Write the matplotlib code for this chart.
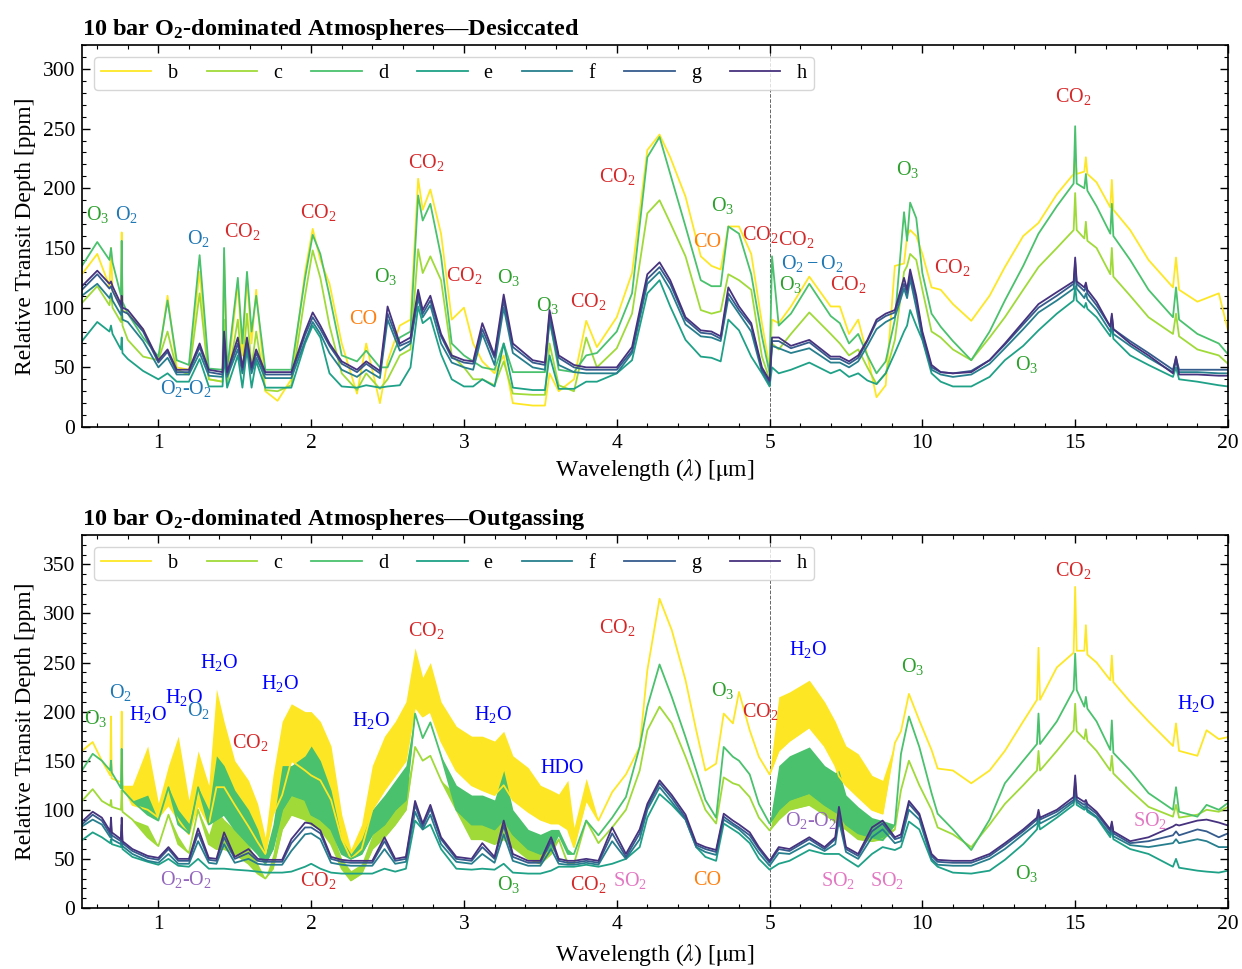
import numpy as np
import matplotlib
matplotlib.use("Agg")
import matplotlib.pyplot as plt
from matplotlib.ticker import FixedLocator, NullFormatter, MultipleLocator

plt.rcParams['font.family'] = ['Liberation Serif', 'DejaVu Serif']
plt.rcParams['mathtext.fontset'] = 'stix'
plt.rcParams['mathtext.default'] = 'regular'

planets = ['b', 'c', 'd', 'e', 'f', 'g', 'h']

# ---------------- desiccated (top) ----------------
wl_top = [0.50, 0.60, 0.68, 0.69, 0.70, 0.755, 0.76, 0.765, 0.80, 0.90,
          1.00, 1.06, 1.12, 1.20, 1.27, 1.33, 1.42, 1.43, 1.45, 1.52,
          1.55, 1.58, 1.61, 1.64, 1.70, 1.78, 1.87, 1.96, 2.01, 2.06,
          2.12, 2.20, 2.30, 2.36, 2.45, 2.50, 2.58, 2.65, 2.70, 2.73,
          2.78, 2.85, 2.92, 3.00, 3.06, 3.12, 3.20, 3.26, 3.32, 3.45,
          3.53, 3.56, 3.62, 3.72, 3.80, 3.87, 4.00, 4.10, 4.20, 4.28,
          4.35, 4.45, 4.55, 4.62, 4.68, 4.73, 4.80, 4.88, 4.95, 5.00,
          5.08, 5.30, 5.70, 6.30, 7.00, 7.30, 7.60, 7.90, 8.20, 8.50,
          8.80, 9.10, 9.40, 9.50, 9.60, 9.80, 10.0, 10.3, 10.6, 11.0,
          11.6, 12.2, 12.7, 13.3, 13.8, 14.4, 14.95, 15.0, 15.05, 15.3, 15.35, 15.4,
          15.7, 16.15, 16.2, 16.25, 16.8, 17.4, 18.2, 18.3, 18.4, 19.0,
          19.7, 20.0]

top_b = [128, 145, 118, 150, 115, 100, 163, 98, 95, 82,
         55, 110, 50, 48, 130, 40, 38, 145, 38, 120,
         60, 125, 70, 115, 30, 22, 40, 130, 166, 140,
         120, 70, 28, 70, 20, 55, 85, 90, 208, 182,
         199, 162, 90, 100, 70, 55, 45, 60, 20, 18,
         18, 45, 30, 40, 89, 67, 92, 129, 232, 245,
         226, 193, 143, 135, 132, 168, 168, 145, 87, 50,
         90, 87, 101, 126, 101, 101, 78, 90, 60, 25,
         35, 135, 137, 160, 165, 160, 145, 117, 115, 103,
         89, 110, 134, 160, 171, 195, 212, 229, 212, 214, 226, 212,
         205, 184, 207, 182, 165, 140, 117, 142, 115, 105,
         112, 81]
top_c = [104, 118, 102, 112, 100, 88, 110, 85, 73, 59,
         56, 80, 48, 44, 112, 40, 38, 90, 36, 90,
         45, 95, 50, 80, 31, 30, 35, 110, 148, 125,
         85, 45, 31, 45, 32, 40, 60, 65, 149, 129,
         143, 123, 60, 50, 40, 40, 35, 55, 28, 27,
         27, 70, 35, 30, 75, 50, 66, 95, 179, 190,
         171, 143, 98, 95, 97, 128, 123, 115, 59, 40,
         70, 65, 78, 96, 78, 70, 60, 65, 50, 36,
         45, 73, 130, 135, 145, 140, 115, 80, 75, 65,
         56, 75, 92, 115, 134, 150, 165, 196, 165, 158, 172, 156,
         150, 128, 150, 126, 110, 92, 78, 95, 76, 65,
         60, 53]
top_d = [135, 155, 140, 150, 138, 110, 156, 105, 95, 75,
         59, 106, 56, 52, 144, 49, 48, 150, 48, 125,
         70, 130, 80, 110, 48, 48, 48, 125, 161, 145,
         110, 60, 55, 64, 50, 50, 75, 80, 194, 173,
         187, 143, 70, 60, 55, 50, 48, 70, 46, 46,
         46, 90, 48, 46, 60, 62, 80, 112, 226, 243,
         212, 168, 123, 118, 118, 168, 162, 128, 76, 45,
         143, 85, 95, 120, 93, 87, 70, 78, 60, 45,
         55, 90, 180, 156, 188, 175, 129, 95, 84, 72,
         56, 80, 106, 135, 162, 185, 204, 252, 204, 200, 212, 198,
         185, 162, 187, 160, 140, 115, 92, 117, 90, 78,
         70, 61]
top_e = [72, 88, 80, 85, 78, 65, 75, 62, 57, 47,
         40, 45, 38, 38, 57, 34, 34, 60, 33, 60,
         33, 65, 33, 55, 33, 33, 33, 70, 85, 75,
         45, 34, 33, 35, 33, 34, 35, 50, 101, 87,
         92, 61, 40, 34, 34, 40, 34, 70, 33, 31,
         31, 60, 32, 32, 38, 38, 45, 56, 112, 123,
         101, 73, 59, 58, 55, 90, 81, 59, 45, 34,
         50, 45, 48, 54, 45, 48, 42, 45, 39, 36,
         45, 62, 80, 85, 98, 85, 73, 45, 38, 34,
         34, 42, 56, 68, 81, 95, 106, 118, 106, 100, 104, 99,
         92, 76, 85, 74, 60, 52, 42, 50, 40, 38,
         35, 34]
top_f = [110, 120, 108, 112, 106, 94, 100, 90, 88, 72,
         50, 58, 44, 44, 62, 43, 42, 70, 42, 65,
         45, 68, 45, 58, 41, 41, 41, 72, 88, 78,
         62, 48, 42, 48, 41, 90, 64, 70, 108, 92,
         102, 70, 54, 50, 48, 78, 52, 100, 62, 50,
         48, 90, 52, 46, 45, 45, 45, 62, 120, 130,
         115, 86, 76, 75, 72, 108, 95, 80, 46, 36,
         68, 66, 62, 66, 54, 54, 50, 55, 68, 82,
         88, 92, 116, 108, 124, 100, 74, 48, 44, 42,
         44, 53, 66, 82, 96, 106, 116, 132, 116, 108, 112, 107,
         98, 80, 88, 78, 68, 58, 46, 55, 46, 46,
         45, 45]
top_g = [115, 128, 116, 118, 114, 100, 106, 97, 95, 80,
         54, 63, 46, 46, 67, 46, 44, 75, 44, 70,
         48, 72, 48, 62, 44, 44, 44, 77, 92, 82,
         68, 53, 46, 53, 45, 95, 68, 72, 112, 95,
         106, 76, 58, 54, 53, 82, 58, 106, 67, 54,
         52, 94, 58, 50, 48, 48, 48, 64, 124, 134,
         120, 90, 79, 78, 74, 112, 98, 85, 48, 38,
         72, 72, 66, 71, 57, 57, 53, 58, 72, 88,
         93, 96, 120, 112, 128, 106, 78, 50, 46, 45,
         47, 56, 69, 86, 100, 110, 120, 138, 120, 114, 118, 112,
         102, 84, 93, 82, 72, 62, 48, 58, 48, 48,
         48, 48]
top_h = [118, 131, 120, 122, 118, 103, 110, 100, 98, 82,
         56, 65, 48, 48, 70, 48, 46, 80, 46, 75,
         50, 75, 50, 65, 46, 46, 46, 80, 96, 85,
         70, 55, 48, 55, 47, 101, 70, 75, 115, 98,
         110, 78, 60, 56, 55, 87, 60, 111, 70, 56,
         54, 98, 60, 52, 50, 50, 50, 67, 128, 138,
         123, 92, 81, 80, 76, 117, 101, 87, 50, 39,
         75, 75, 68, 73, 59, 59, 55, 60, 73, 90,
         95, 98, 125, 115, 132, 110, 80, 52, 46, 45,
         46, 56, 70, 88, 103, 113, 122, 142, 122, 117, 121, 115,
         105, 84, 95, 82, 70, 60, 45, 59, 44, 44,
         43, 43]

# ---------------- outgassing (bottom) ----------------
wl_bot = [0.50, 0.57, 0.63, 0.685, 0.69, 0.695, 0.755, 0.76, 0.765, 0.83,
          0.93, 1.00, 1.066, 1.13, 1.20, 1.26, 1.33, 1.38, 1.43, 1.50,
          1.59, 1.65, 1.70, 1.75, 1.81, 1.87, 1.96, 2.00, 2.06, 2.13,
          2.20, 2.26, 2.33, 2.40, 2.48, 2.55, 2.62, 2.68, 2.73, 2.78,
          2.85, 2.95, 3.05, 3.12, 3.20, 3.26, 3.32, 3.42, 3.50, 3.57,
          3.62, 3.68, 3.72, 3.80, 3.88, 3.97, 4.06, 4.15, 4.20, 4.28,
          4.36, 4.45, 4.52, 4.58, 4.65, 4.70, 4.76, 4.80, 4.87, 4.93,
          5.00, 5.30, 5.65, 6.30, 6.80, 7.15, 7.27, 7.50, 7.90, 8.35,
          8.70, 9.10, 9.30, 9.56, 9.90, 10.3, 10.5, 11.0, 11.6, 12.2,
          12.7, 13.3, 13.75, 13.8, 13.85, 14.4, 14.95, 15.0, 15.05, 15.3, 15.35, 15.4,
          15.7, 16.15, 16.2, 16.25, 16.8, 17.4, 18.2, 18.3, 18.4, 19.0,
          19.3, 19.7, 20.0]

bot_b = [160, 169, 150, 135, 195, 132, 128, 200, 125, 105,
         100, 92, 105, 90, 75, 105, 85, 123, 123, 105,
         83, 67, 55, 95, 115, 150, 140, 135, 130, 110,
         70, 50, 60, 100, 120, 135, 150, 205, 195, 200,
         170, 140, 125, 120, 115, 125, 110, 98, 90, 86,
         86, 80, 62, 110, 89, 118, 136, 164, 242, 315,
         283, 232, 181, 140, 147, 198, 188, 220, 181, 154,
         136, 160, 170, 184, 165, 145, 134, 125, 113, 100,
         96, 168, 180, 218, 191, 161, 142, 140, 127, 140,
         160, 190, 212, 265, 212, 245, 260, 327, 262, 262, 288, 258,
         250, 232, 257, 230, 210, 190, 165, 188, 160, 155,
         181, 172, 174]
bot_c = [109, 121, 109, 104, 110, 103, 100, 120, 98, 90,
         72, 63, 95, 65, 56, 100, 65, 60, 60, 55,
         45, 35, 30, 40, 80, 95, 90, 85, 80, 65,
         40, 28, 35, 60, 72, 85, 100, 164, 150, 155,
         130, 100, 70, 70, 65, 70, 62, 50, 45, 55,
         70, 45, 45, 89, 66, 82, 100, 140, 181, 205,
         188, 154, 125, 100, 86, 133, 127, 125, 113, 92,
         79, 90, 100, 105, 95, 88, 84, 80, 70, 68,
         70, 80, 120, 150, 125, 100, 82, 75, 62, 85,
         106, 125, 140, 160, 140, 160, 181, 208, 180, 172, 182, 170,
         160, 140, 155, 137, 120, 103, 93, 105, 92, 95,
         100, 98, 103]
bot_d = [140, 157, 150, 140, 150, 138, 122, 162, 120, 109,
         95, 89, 123, 85, 76, 123, 85, 90, 95, 80,
         65, 55, 45, 60, 100, 115, 110, 95, 90, 80,
         55, 50, 55, 75, 85, 100, 110, 198, 173, 189,
         155, 100, 85, 85, 80, 90, 75, 60, 55, 60,
         75, 55, 55, 89, 74, 92, 113, 164, 205, 248,
         215, 174, 140, 110, 92, 164, 154, 150, 136, 106,
         86, 100, 110, 117, 105, 98, 96, 85, 76, 72,
         69, 85, 157, 195, 164, 117, 96, 80, 59, 90,
         127, 150, 167, 198, 167, 190, 222, 259, 222, 205, 215, 203,
         190, 161, 191, 158, 140, 117, 100, 123, 98, 93,
         105, 100, 107]
bot_e = [69, 77, 72, 66, 70, 65, 62, 75, 60, 52,
         47, 44, 50, 43, 42, 50, 40, 40, 40, 39,
         38, 37, 36, 36, 36, 37, 42, 45, 40, 36,
         35, 35, 35, 35, 40, 37, 40, 89, 80, 85,
         60, 40, 39, 40, 39, 45, 36, 35, 35, 38,
         42, 42, 42, 44, 42, 45, 50, 62, 92, 116,
         105, 90, 62, 52, 48, 86, 80, 76, 66, 50,
         39, 45, 48, 59, 55, 55, 55, 50, 42, 55,
         62, 59, 62, 88, 80, 48, 42, 36, 35, 38,
         49, 65, 80, 88, 80, 92, 105, 118, 105, 100, 102, 98,
         92, 72, 80, 70, 60, 55, 42, 50, 41, 38,
         37, 36, 38]
bot_f = [83, 90, 85, 72, 80, 70, 65, 78, 63, 55,
         48, 46, 55, 45, 45, 68, 46, 45, 65, 46,
         50, 45, 44, 44, 44, 58, 75, 76, 70, 46,
         44, 43, 43, 43, 60, 45, 47, 98, 80, 95,
         65, 47, 45, 55, 46, 75, 48, 43, 43, 60,
         45, 44, 44, 46, 44, 68, 50, 70, 100, 123,
         108, 90, 62, 57, 54, 90, 84, 80, 70, 56,
         43, 56, 55, 66, 58, 65, 89, 57, 50, 72,
         80, 66, 68, 100, 90, 50, 44, 43, 43, 50,
         60, 75, 86, 94, 86, 95, 108, 125, 108, 102, 104, 100,
         93, 75, 83, 73, 64, 62, 66, 70, 66, 70,
         68, 62, 62]
bot_g = [85, 95, 89, 75, 85, 74, 68, 85, 66, 58,
         51, 49, 60, 48, 48, 76, 49, 48, 72, 50,
         56, 48, 47, 47, 47, 66, 82, 82, 76, 50,
         47, 46, 46, 46, 68, 48, 50, 105, 83, 101,
         70, 50, 48, 62, 50, 84, 52, 46, 46, 68,
         48, 46, 46, 48, 46, 76, 52, 76, 103, 127,
         112, 92, 64, 60, 57, 93, 86, 82, 74, 60,
         46, 60, 58, 70, 60, 70, 96, 60, 53, 78,
         86, 70, 72, 106, 94, 53, 47, 46, 46, 53,
         64, 78, 90, 97, 90, 98, 110, 128, 110, 105, 107, 103,
         96, 78, 86, 76, 66, 68, 74, 78, 74, 80,
         78, 72, 76]
bot_h = [88, 98, 92, 78, 92, 77, 70, 92, 68, 60,
         53, 51, 62, 50, 50, 81, 51, 50, 77, 52,
         60, 50, 49, 49, 49, 70, 87, 86, 79, 52,
         49, 48, 48, 48, 72, 50, 52, 109, 86, 105,
         72, 52, 50, 66, 52, 89, 55, 48, 48, 72,
         50, 48, 48, 50, 48, 82, 55, 80, 106, 130,
         115, 95, 66, 62, 59, 96, 89, 85, 77, 62,
         48, 62, 60, 72, 62, 72, 103, 62, 55, 82,
         89, 72, 75, 109, 96, 55, 49, 48, 48, 55,
         66, 80, 92, 100, 92, 100, 113, 135, 113, 108, 110, 106,
         98, 80, 88, 78, 68, 72, 83, 85, 84, 89,
         90, 87, 84]

# width of the dense noise band above the line (H2O forest)
bot_b_band = [0, 0, 0, 0, 0, 0, 0, 0, 0, 20,
              65, 15, 40, 85, 35, 55, 40, 100, 67, 45,
              47, 39, 17, 40, 75, 58, 60, 65, 60, 55,
              25, 10, 25, 45, 55, 55, 60, 60, 40, 50,
              40, 45, 50, 55, 55, 55, 45, 45, 35, 34,
              30, 50, 20, 22, 0, 0, 0, 0, 0, 0,
              0, 0, 0, 0, 0, 0, 0, 0, 0, 0,
              0, 55, 50, 48, 45, 45, 47, 40, 44, 35,
              34, 0, 0, 0, 0, 0, 0, 0, 0, 0,
              0, 0, 0, 0, 0, 0, 0, 0, 0, 0, 0, 0,
              0, 0, 0, 0, 0, 0, 0, 0, 0, 0,
              0, 0, 0]
bot_c_band = [0, 0, 0, 0, 0, 0, 0, 0, 0, 0,
              12, 0, 0, 8, 0, 0, 10, 40, 30, 25,
              20, 10, 0, 15, 25, 25, 25, 25, 20, 15,
              10, 10, 10, 15, 15, 15, 20, 0, 0, 0,
              0, 15, 25, 25, 25, 30, 15, 12, 12, 10,
              0, 0, 0, 0, 0, 0, 0, 0, 0, 0,
              0, 0, 0, 0, 0, 0, 0, 0, 0, 0,
              0, 30, 30, 30, 25, 22, 25, 20, 18, 15,
              12, 0, 0, 0, 0, 0, 0, 0, 0, 0,
              0, 0, 0, 0, 0, 0, 0, 0, 0, 0, 0, 0,
              0, 0, 0, 0, 0, 0, 0, 0, 0, 0,
              0, 0, 0]
bot_d_band = [0, 0, 0, 0, 0, 0, 0, 0, 0, 0,
              20, 0, 0, 15, 10, 0, 15, 65, 50, 40,
              35, 25, 10, 25, 45, 30, 45, 70, 60, 40,
              15, 5, 15, 25, 30, 30, 35, 0, 0, 0,
              0, 25, 30, 30, 30, 50, 25, 20, 20, 20,
              5, 5, 0, 0, 0, 0, 0, 0, 0, 0,
              0, 0, 0, 0, 0, 0, 0, 0, 0, 0,
              0, 45, 45, 47, 40, 40, 44, 30, 27, 20,
              20, 0, 0, 0, 0, 0, 0, 0, 0, 0,
              0, 0, 0, 0, 0, 0, 0, 0, 0, 0, 0, 0,
              0, 0, 0, 0, 0, 0, 0, 0, 0, 0,
              0, 0, 0]

C_O3, C_O2, C_CO2, C_CO = '#2ca02c', '#1f77b4', '#d62728', '#ff7f0e'
C_H2O, C_O4, C_SO2 = '#0000ff', '#9467bd', '#e377c2'

labels_top = [
    ('O$_3$', 0.60, 178, C_O3), ('O$_2$', 0.79, 178, C_O2),
    ('O$_2$', 1.265, 158, C_O2), ('CO$_2$', 1.55, 164, C_CO2),
    ('CO$_2$', 2.045, 180, C_CO2), ('CO$_2$', 2.755, 222, C_CO2),
    ('O$_3$', 2.49, 126, C_O3), ('CO', 2.34, 90, C_CO),
    ('CO$_2$', 3.0, 127, C_CO2), ('O$_3$', 3.29, 125, C_O3),
    ('O$_3$', 3.55, 102, C_O3), ('CO$_2$', 3.81, 105, C_CO2),
    ('CO$_2$', 4.0, 210, C_CO2), ('O$_3$', 4.69, 186, C_O3),
    ('CO', 4.59, 155, C_CO), ('CO$_2$', 4.94, 161, C_CO2),
    ('CO$_2$', 5.87, 157, C_CO2), ('O$_2-$O$_2$', 6.4, 137, C_O2),
    ('O$_3$', 5.7, 119, C_O3), ('CO$_2$', 7.57, 119, C_CO2),
    ('O$_3$', 9.53, 216, C_O3), ('CO$_2$', 10.96, 134, C_CO2),
    ('CO$_2$', 14.95, 277, C_CO2), ('O$_3$', 13.41, 52, C_O3),
    ('O$_2$-O$_2$', 1.18, 32, C_O2),
]
labels_bot = [
    ('O$_3$', 0.59, 193, C_O3), ('O$_2$', 0.755, 219, C_O2),
    ('H$_2$O', 0.93, 197, C_H2O), ('H$_2$O', 1.17, 214, C_H2O),
    ('O$_2$', 1.265, 201, C_O2), ('H$_2$O', 1.395, 250, C_H2O),
    ('CO$_2$', 1.6, 169, C_CO2), ('H$_2$O', 1.794, 229, C_H2O),
    ('H$_2$O', 2.39, 191, C_H2O), ('CO$_2$', 2.755, 283, C_CO2),
    ('H$_2$O', 3.19, 197, C_H2O), ('HDO', 3.64, 142, C_H2O),
    ('CO$_2$', 4.0, 286, C_CO2), ('O$_3$', 4.69, 222, C_O3),
    ('CO$_2$', 4.94, 200, C_CO2), ('H$_2$O', 6.26, 263, C_H2O),
    ('O$_3$', 9.69, 246, C_O3), ('CO$_2$', 14.95, 344, C_CO2),
    ('H$_2$O', 18.94, 208, C_H2O), ('SO$_2$', 17.44, 89, C_SO2),
    ('O$_3$', 13.41, 35, C_O3), ('O$_2$-O$_2$', 1.18, 29, C_O4),
    ('CO$_2$', 2.045, 28, C_CO2), ('O$_3$', 3.29, 24, C_O3),
    ('CO$_2$', 3.81, 24, C_CO2), ('SO$_2$', 4.09, 28, C_SO2),
    ('CO', 4.59, 28, C_CO), ('O$_2$-O$_2$', 6.36, 89, C_O4),
    ('SO$_2$', 7.24, 28, C_SO2), ('SO$_2$', 8.84, 28, C_SO2),
]

colors = plt.cm.viridis(np.linspace(0, 1, 8))[1:][::-1]


# piecewise x axis: linear to 5 um, compressed 5x beyond
def fwd(x):
    x = np.asarray(x, dtype=float)
    return np.where(x <= 5, x, 5 + (x - 5) / 5.0)


def inv(y):
    y = np.asarray(y, dtype=float)
    return np.where(y <= 5, y, 5 + (y - 5) * 5.0)


def style_axis(ax, ymax, xpad):
    ax.set_xscale('function', functions=(fwd, inv))
    ax.set_xlim(0.5, 20)
    ax.set_ylim(0, ymax)
    ax.xaxis.set_major_locator(FixedLocator([1, 2, 3, 4, 5, 10, 15, 20]))
    ax.set_xticklabels(['1', '2', '3', '4', '5', '10', '15', '20'])
    minors = [round(v, 1) for v in np.arange(0.6, 5.0, 0.2) if abs(v - round(v)) > 0.05]
    minors += [6, 7, 8, 9, 11, 12, 13, 14, 16, 17, 18, 19]
    ax.xaxis.set_minor_locator(FixedLocator(minors))
    ax.xaxis.set_minor_formatter(NullFormatter())
    ax.yaxis.set_major_locator(MultipleLocator(50))
    ax.yaxis.set_minor_locator(MultipleLocator(10))
    ax.tick_params(which='both', direction='in', top=True, right=True, labelsize=15.5)
    ax.tick_params(which='major', length=6, width=1, pad=5)
    ax.tick_params(which='minor', length=3, width=0.8)
    for s in ax.spines.values():
        s.set_linewidth(1.2)
    ax.axvline(5, color='0.4', ls='--', lw=0.7, zorder=0)
    ax.set_xlabel(r'Wavelength ($\mathit{\lambda}$) [$\mathrm{\mu}$m]', fontsize=17, labelpad=xpad)
    ax.set_ylabel('Relative Transit Depth [ppm]', fontsize=17, labelpad=5)
    ax.legend(loc='upper left', ncol=7, fontsize=14.5, handlelength=2.5,
              columnspacing=1.45, frameon=True, edgecolor='0.8', fancybox=True,
              borderaxespad=0.6, borderpad=0.35)


fig = plt.figure(figsize=(12.42, 9.69), dpi=100)
ax1 = fig.add_axes([0.066, 0.5593, 0.9227, 0.3942])
ax2 = fig.add_axes([0.066, 0.063, 0.9227, 0.385])

top_series = [top_b, top_c, top_d, top_e, top_f, top_g, top_h]
for name, vals, col in zip(planets, top_series, colors):
    ax1.plot(wl_top, vals, color=col, lw=1.3, label=name)

bot_series = [bot_b, bot_c, bot_d, bot_e, bot_f, bot_g, bot_h]
bands = {'b': bot_b_band, 'c': bot_c_band, 'd': bot_d_band}
for name, vals, col in zip(planets, bot_series, colors):
    if name in bands:
        lo = np.array(vals, dtype=float)
        ax2.fill_between(wl_bot, lo, lo + np.array(bands[name]), color=col, lw=0)
    ax2.plot(wl_bot, vals, color=col, lw=1.3, label=name)

for t, x, y, c in labels_top:
    ax1.text(x, y, t, color=c, fontsize=14.5, ha='center', va='center')
for t, x, y, c in labels_bot:
    ax2.text(x, y, t, color=c, fontsize=14.5, ha='center', va='center')

style_axis(ax1, 320, 3)
style_axis(ax2, 380, 6)
ax1.set_title(r'10 bar O$_2$-dominated Atmospheres—Desiccated', loc='left',
              fontweight='bold', fontsize=17.5, pad=7)
ax2.set_title(r'10 bar O$_2$-dominated Atmospheres—Outgassing', loc='left',
              fontweight='bold', fontsize=17.5, pad=7)

fig.savefig('out.png', dpi=100)
